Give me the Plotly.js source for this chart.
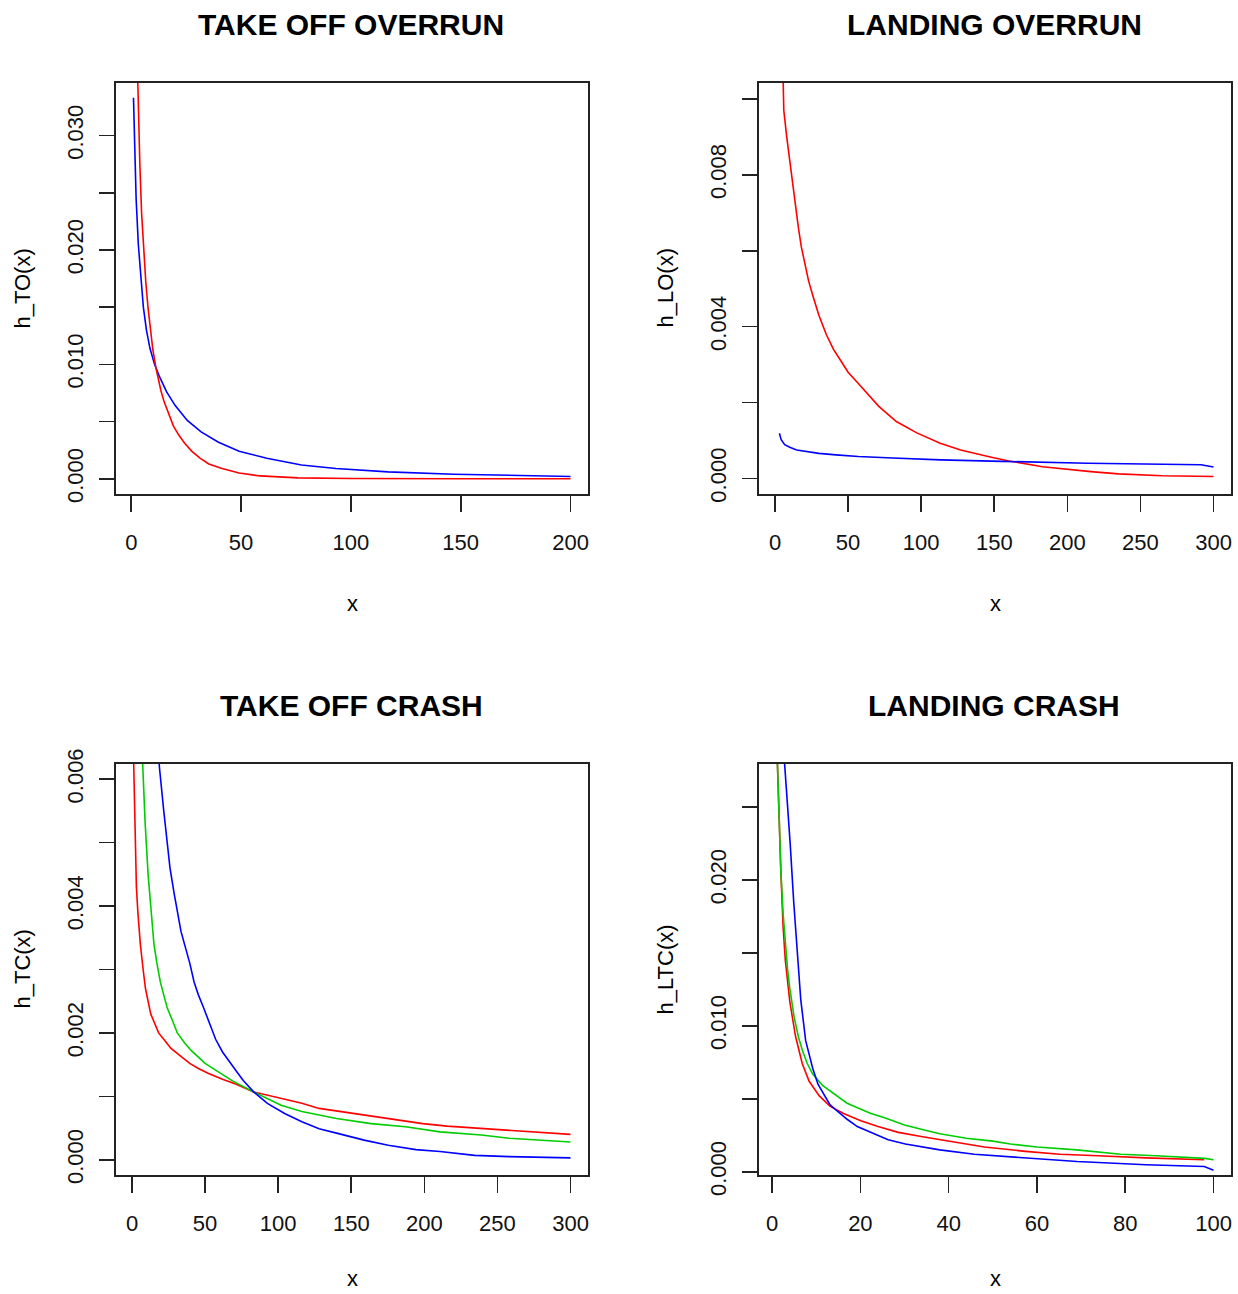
<!DOCTYPE html>
<html>
<head>
<meta charset="utf-8">
<script src="https://cdn.plot.ly/plotly-3.0.1.min.js"></script>
<style>html,body{margin:0;padding:0;background:#fff;}#plot{width:1238px;height:1294px;}</style>
</head>
<body>
<div id="plot"></div>
<script>
// ---------- DATA ----------
// Panel 1: TAKE OFF OVERRUN
const TO_blue_x = [1, 1.6, 2.2, 3.2, 4.4, 5.5, 6.9, 8.5, 10.6, 12.9, 16.1, 20, 25.5, 31.8, 39.7, 49.1, 61.7, 77.5, 93.2, 116.9, 146.8, 200];
const TO_blue_y = [0.0333, 0.0290, 0.0245, 0.0205, 0.0172, 0.0150, 0.0130, 0.0114, 0.0100, 0.0089, 0.0076, 0.0064, 0.0051, 0.0041, 0.0032, 0.0024, 0.0018, 0.0012, 0.0009, 0.0006, 0.0004, 0.0002];
const TO_red_x = [2, 3.2, 3.9, 4.7, 5.8, 6.6, 7.6, 8.7, 9.8, 11.3, 12.4, 13.5, 15, 16.9, 19.2, 21.7, 24.3, 27.6, 31.3, 35.3, 41.3, 49.1, 58.6, 75.9, 100, 150, 200];
const TO_red_y = [0.0420, 0.0320, 0.0275, 0.0232, 0.0195, 0.0172, 0.0150, 0.0130, 0.0113, 0.0096, 0.0086, 0.0077, 0.0067, 0.0057, 0.0046, 0.0038, 0.0031, 0.0024, 0.0018, 0.0013, 0.0009, 0.0005, 0.00025, 0.00008, 0.00002, 0, 0];
// Panel 2: LANDING OVERRUN
const LO_red_x = [5, 6, 8, 10, 12, 14, 16, 18, 20, 23, 26, 30, 35, 40, 45, 50, 57, 64, 71, 83, 97, 113, 127, 148, 160, 183, 200, 216, 235, 265, 300];
const LO_red_y = [0.0115, 0.0097, 0.0090, 0.0084, 0.0077, 0.0071, 0.0066, 0.0061, 0.0057, 0.0052, 0.0048, 0.0043, 0.0038, 0.0034, 0.0031, 0.0028, 0.0025, 0.0022, 0.0019, 0.0015, 0.0012, 0.00093, 0.00075, 0.00056, 0.00046, 0.00031, 0.00024, 0.00018, 0.00012, 0.00007, 0.00005];
const LO_blue_x = [3, 4.2, 6.6, 10.1, 14.8, 21.8, 30, 41.7, 57, 80.4, 113.2, 155.4, 214, 291.4, 300];
const LO_blue_y = [0.00119, 0.00102, 0.00089, 0.00082, 0.00075, 0.00071, 0.00066, 0.00062, 0.00058, 0.00054, 0.00049, 0.00045, 0.0004, 0.00036, 0.0003];
// Panel 3: TAKE OFF CRASH
const TC_red_x = [1, 2, 3, 4, 5.7, 7.6, 9.2, 12.8, 18.2, 21.7, 26.5, 32.4, 39.5, 45.4, 52.4, 61.9, 71.3, 83.2, 97.3, 116.2, 128, 151.7, 175.3, 198.9, 215.5, 246.2, 286.3, 300];
const TC_red_y = [0.0064, 0.0050, 0.0043, 0.0039, 0.0034, 0.0030, 0.0027, 0.0023, 0.0020, 0.0019, 0.00176, 0.00165, 0.00152, 0.00144, 0.00136, 0.00127, 0.00119, 0.00107, 0.00099, 0.00089, 0.00081, 0.00073, 0.00065, 0.00057, 0.00053, 0.00048, 0.00042, 0.0004];
const TC_green_x = [5, 7.6, 9, 11, 13, 15, 17, 19.4, 21.7, 24, 27.6, 31, 36, 40.6, 50, 60, 69, 83.2, 102, 116.2, 139.9, 163.5, 187.1, 210.7, 239, 258, 281.6, 300];
const TC_green_y = [0.0075, 0.0060, 0.0053, 0.0045, 0.0039, 0.0034, 0.0031, 0.0028, 0.0026, 0.0024, 0.0022, 0.0020, 0.00184, 0.00172, 0.00152, 0.00137, 0.00124, 0.00107, 0.00086, 0.00076, 0.00065, 0.00057, 0.00052, 0.00044, 0.00039, 0.00034, 0.00031, 0.00028];
const TC_blue_x = [15, 18.7, 21.7, 24.1, 26, 28.8, 31.2, 33.5, 35.9, 39.5, 42.5, 45.4, 48.9, 52.4, 57.2, 61.9, 66.6, 71.3, 76.1, 83.2, 92.6, 104.4, 116.2, 128, 139.9, 158.8, 175.3, 194.2, 210.7, 234.3, 258, 281.6, 300];
const TC_blue_y = [0.0078, 0.0062, 0.0055, 0.0050, 0.0046, 0.0042, 0.0039, 0.0036, 0.0034, 0.0031, 0.0028, 0.0026, 0.0024, 0.0022, 0.0019, 0.0017, 0.00154, 0.0014, 0.00125, 0.00107, 0.00089, 0.00073, 0.0006, 0.00049, 0.00042, 0.00031, 0.00023, 0.00016, 0.00013, 0.00007, 0.00005, 0.00004, 0.00003];
// Panel 4: LANDING CRASH
const LTC_red_x = [1, 1.5, 2, 2.5, 3, 4, 5.3, 6.85, 8.4, 10.7, 13.1, 16.2, 20.1, 24, 28.6, 34.1, 41.9, 48.1, 57.4, 65.2, 73.8, 84.7, 97.9];
const LTC_red_y = [0.030, 0.0250, 0.0205, 0.0168, 0.0145, 0.0117, 0.0093, 0.0074, 0.0062, 0.0052, 0.0045, 0.0040, 0.0035, 0.0031, 0.0027, 0.0024, 0.0020, 0.0017, 0.0014, 0.0012, 0.0011, 0.00095, 0.00082];
const LTC_green_x = [1, 1.5, 2, 2.5, 3, 3.5, 4, 4.5, 5, 6, 7, 8, 9.2, 11.5, 14.6, 17, 20, 22.4, 25.5, 30, 34, 38, 44, 50, 54, 60, 69, 79, 87, 98, 100];
const LTC_green_y = [0.030, 0.0245, 0.0205, 0.0177, 0.0155, 0.0139, 0.0126, 0.0115, 0.0106, 0.0092, 0.0082, 0.0074, 0.0067, 0.0059, 0.0052, 0.0047, 0.0043, 0.0040, 0.0037, 0.0032, 0.0029, 0.0026, 0.0023, 0.0021, 0.0019, 0.0017, 0.0015, 0.0012, 0.0011, 0.00092, 0.00082];
const LTC_blue_x = [2.6, 3.6, 4.1, 4.9, 5.7, 6.5, 7.6, 9.2, 10.4, 12.3, 13.1, 14.6, 17, 19.3, 22.4, 26.3, 30.2, 38, 45.8, 57.4, 69.1, 84.7, 97.9, 100];
const LTC_blue_y = [0.0290, 0.0250, 0.0225, 0.0185, 0.0148, 0.0118, 0.0090, 0.0071, 0.0060, 0.0050, 0.0046, 0.0042, 0.0036, 0.0031, 0.0027, 0.0022, 0.0019, 0.0015, 0.0012, 0.00094, 0.0007, 0.00048, 0.00036, 0.0001];

// Tick values / labels
const TO_xticks = [0, 50, 100, 150, 200];
const LO_xticks = [0, 50, 100, 150, 200, 250, 300];
const TC_xticks = [0, 50, 100, 150, 200, 250, 300];
const LTC_xticks = [0, 20, 40, 60, 80, 100];
const TO_yticks = [0, 0.005, 0.010, 0.015, 0.020, 0.025, 0.030];
const TO_ylabels = ['0.000', '', '0.010', '', '0.020', '', '0.030'];
const LO_yticks = [0, 0.002, 0.004, 0.006, 0.008, 0.010];
const LO_ylabels = ['0.000', '', '0.004', '', '0.008', ''];
const TC_yticks = [0, 0.001, 0.002, 0.003, 0.004, 0.005, 0.006];
const TC_ylabels = ['0.000', '', '0.002', '', '0.004', '', '0.006'];
const LTC_yticks = [0, 0.005, 0.010, 0.015, 0.020, 0.025];
const LTC_ylabels = ['0.000', '', '0.010', '', '0.020', ''];

const titles = ['TAKE OFF OVERRUN', 'LANDING OVERRUN', 'TAKE OFF CRASH', 'LANDING CRASH'];
const ylabels = ['h_TO(x)', 'h_LO(x)', 'h_TC(x)', 'h_LTC(x)'];
const xlabel = 'x';

// ---------- STYLE ----------
const RED = '#FF0000', BLUE = '#0000FF', GREEN = '#00CD00';
const FONT = 'Liberation Sans, Arial, Helvetica, sans-serif';
const W = 1238, H = 1294;
const LW = 1.6;

function tr(x, y, c, xa, ya) {
  return {x: x, y: y, type: 'scatter', mode: 'lines', line: {color: c, width: LW}, xaxis: xa, yaxis: ya, hoverinfo: 'skip'};
}
const data = [
  tr(TO_blue_x, TO_blue_y, BLUE, 'x', 'y'),
  tr(TO_red_x, TO_red_y, RED, 'x', 'y'),
  tr(LO_red_x, LO_red_y, RED, 'x2', 'y2'),
  tr(LO_blue_x, LO_blue_y, BLUE, 'x2', 'y2'),
  tr(TC_red_x, TC_red_y, RED, 'x3', 'y3'),
  tr(TC_green_x, TC_green_y, GREEN, 'x3', 'y3'),
  tr(TC_blue_x, TC_blue_y, BLUE, 'x3', 'y3'),
  tr(LTC_red_x, LTC_red_y, RED, 'x4', 'y4'),
  tr(LTC_green_x, LTC_green_y, GREEN, 'x4', 'y4'),
  tr(LTC_blue_x, LTC_blue_y, BLUE, 'x4', 'y4')
];

// plot boxes in pixels: [left, right, top, bottom]
const boxes = [[116, 588, 83, 494], [759, 1231, 83, 494], [116, 588, 764, 1175], [759, 1231, 764, 1175]];
// bottom edge (px) of the "x" label box for each panel
const xlabBottom = [617, 617, 1292, 1292];

function xax(i, range, ticks) {
  const b = boxes[i];
  return {
    domain: [b[0] / W, b[1] / W], anchor: i === 0 ? 'y' : 'y' + (i + 1), range: range,
    showline: true, mirror: true, linecolor: '#222', linewidth: 1.6,
    ticks: 'outside', ticklen: 16, tickwidth: 1.6, tickcolor: '#222',
    tickmode: 'array', tickvals: ticks, ticktext: ticks.map(String),
    tickfont: {family: FONT, size: 22, color: '#111'}, ticklabelstandoff: 12,
    showgrid: false, zeroline: false, fixedrange: true
  };
}
function yax(i, range, ticks, labels) {
  const b = boxes[i];
  return {
    domain: [1 - b[3] / H, 1 - b[2] / H], anchor: i === 0 ? 'x' : 'x' + (i + 1), range: range,
    showline: true, mirror: true, linecolor: '#222', linewidth: 1.6,
    ticks: 'outside', ticklen: 15, tickwidth: 1.6, tickcolor: '#222',
    tickmode: 'array', tickvals: ticks, ticktext: labels, tickangle: -90,
    tickfont: {family: FONT, size: 22, color: '#111'}, ticklabelstandoff: 8,
    showgrid: false, zeroline: false, fixedrange: true
  };
}

const annotations = [];
boxes.forEach(function (b, i) {
  const cx = (b[0] + b[1]) / 2, cy = (b[2] + b[3]) / 2;
  annotations.push({text: '<b>' + titles[i] + '</b>', xref: 'paper', yref: 'paper', x: (cx - 1) / W, y: 1 - (b[2] - 59) / H,
    xanchor: 'center', yanchor: 'middle', showarrow: false, font: {family: FONT, size: 30, color: '#000'}});
  annotations.push({text: xlabel, xref: 'paper', yref: 'paper', x: cx / W, y: 1 - xlabBottom[i] / H,
    xanchor: 'center', yanchor: 'bottom', borderpad: 0, showarrow: false, font: {family: FONT, size: 22, color: '#000'}});
  annotations.push({text: ylabels[i], xref: 'paper', yref: 'paper', x: (b[0] - 94) / W, y: 1 - cy / H, textangle: -90,
    xanchor: 'center', yanchor: 'middle', showarrow: false, font: {family: FONT, size: 22, color: '#000'}});
});

const layout = {
  width: W, height: H, margin: {l: 0, r: 0, t: 0, b: 0},
  paper_bgcolor: '#fff', plot_bgcolor: '#fff', showlegend: false,
  xaxis: xax(0, [-6.96, 207.96], TO_xticks),
  yaxis: yax(0, [-0.00133, 0.03459], TO_yticks, TO_ylabels),
  xaxis2: xax(1, [-10.96, 311.96], LO_xticks),
  yaxis2: yax(1, [-0.00041, 0.01042], LO_yticks, LO_ylabels),
  xaxis3: xax(2, [-10.96, 311.96], TC_xticks),
  yaxis3: yax(2, [-0.00024, 0.00624], TC_yticks, TC_ylabels),
  xaxis4: xax(3, [-2.96, 103.96], LTC_xticks),
  yaxis4: yax(3, [-0.00022, 0.02794], LTC_yticks, LTC_ylabels),
  annotations: annotations
};

Plotly.newPlot('plot', data, layout, {staticPlot: true, displayModeBar: false});
</script>
</body>
</html>
